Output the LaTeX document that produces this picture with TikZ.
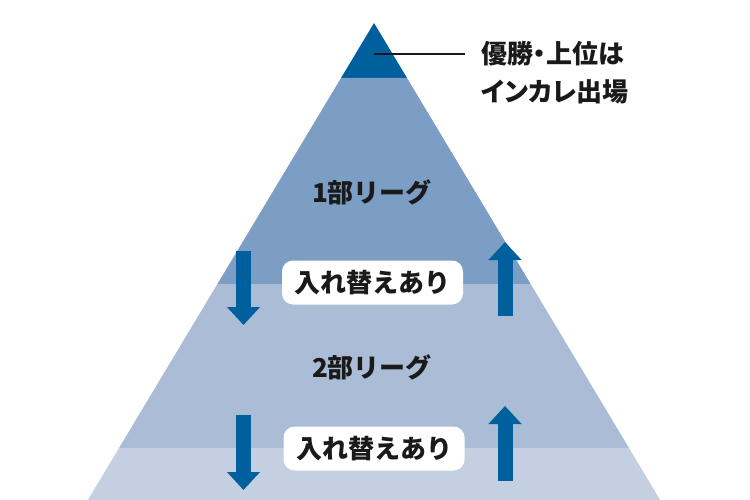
\documentclass[tikz,border=0pt]{standalone}
\usepackage{fontspec}
\setmainfont{Noto Sans CJK JP}
\newfontfamily\notefont{Noto Sans CJK JP}[RawFeature=+palt]
\usetikzlibrary{arrows.meta}
\definecolor{topblue}{RGB}{0,96,158}
\definecolor{bandone}{RGB}{124,157,196}
\definecolor{bandtwo}{RGB}{170,188,214}
\definecolor{bandthree}{RGB}{196,208,226}
\definecolor{inktext}{RGB}{26,26,26}
\tikzset{
    league/.style = {
        font=\fontsize{26}{30}\selectfont\bfseries,
        text = inktext,
        inner sep=0pt,
        },
    swap box/.style = {
        fill = white,
        rounded corners = 11pt,
        minimum width = 181pt,
        minimum height = 44pt,
        inner sep = 0pt,
        font=\fontsize{26}{30}\selectfont\bfseries,
        text = inktext,
        },
    move arrow/.style = {
        draw = topblue,
        line width = 15pt,
        -{Triangle[width=32pt, length=18pt]},
        },
    note/.style = {
        font=\notefont\fontsize{26}{38}\selectfont\bfseries,
        text = inktext,
        align = left,
        inner sep = 0pt,
        },
}
\begin{document}
\begin{tikzpicture}[x=1pt, y=-1pt]
    \useasboundingbox (0,0) rectangle (750,500);

    % pyramid outline points
    \coordinate (apex) at (374,23);
    \coordinate (L1) at (341,78);    \coordinate (R1) at (407,78);
    \coordinate (L2) at (217.4,284); \coordinate (R2) at (530.6,284);
    \coordinate (L3) at (119,448);   \coordinate (R3) at (629,448);
    \coordinate (L4) at (87.8,500);  \coordinate (R4) at (660.2,500);

    \fill[topblue] (apex) -- (R1) -- (L1) -- cycle;
    \fill[bandone] (L1) -- (R1) -- (R2) -- (L2) -- cycle;
    \fill[bandtwo] (L2) -- (R2) -- (R3) -- (L3) -- cycle;
    \fill[bandthree] (L3) -- (R3) -- (R4) -- (L4) -- cycle;

    \node[league] (first) at (372,192) {1部リーグ};
    \node[league] (second) at (372,367) {2部リーグ};

    % promotion / relegation
    \coordinate (downA) at (243.5,251); \coordinate (downAend) at (243.5,325);
    \coordinate (upA) at (505,316);     \coordinate (upAend) at (505,242);
    \coordinate (downB) at (243.5,415); \coordinate (downBend) at (243.5,490);
    \coordinate (upB) at (505,481);     \coordinate (upBend) at (505,406);
    \draw[move arrow] (downA) -- (downAend);
    \draw[move arrow] (upA) -- (upAend);
    \draw[move arrow] (downB) -- (downBend);
    \draw[move arrow] (upB) -- (upBend);

    \node[swap box] (swapA) at (372.5,282.5) {入れ替えあり};
    \node[swap box] (swapB) at (374,448.5) {入れ替えあり};

    \coordinate (top) at (374,54);
    \node[note, anchor=west] (champ) at (481,72.5) {優勝・上位は\\インカレ出場};
    \draw[line width=1.6pt, inktext] (top) -- ([xshift=-16pt]champ.west |- top);
\end{tikzpicture}
\end{document}
